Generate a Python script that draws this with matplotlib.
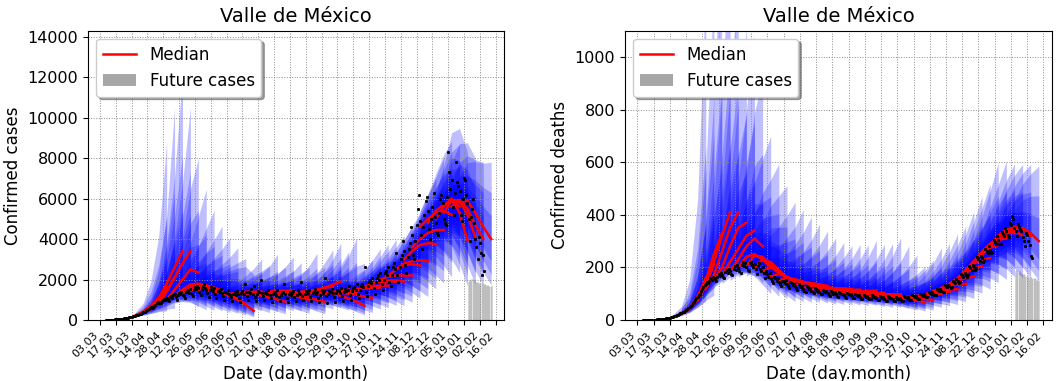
import numpy as np
import pandas as pd
import matplotlib
matplotlib.use("Agg")
import matplotlib.pyplot as plt
import matplotlib.dates as mdates
from matplotlib.lines import Line2D
from matplotlib.patches import Patch

# ---------------------------------------------------------------- data
region = "Valle de México"
first_day = "2020-03-08"

# daily confirmed cases, one row per week starting on Sundays
cases_daily = [
    2, 3, 5, 6, 10, 12, 18,
    20, 25, 30, 38, 45, 50, 55,
    60, 70, 80, 95, 105, 110, 120,
    130, 150, 160, 180, 200, 210, 230,
    240, 270, 300, 320, 350, 380, 400,
    420, 460, 500, 540, 580, 620, 650,
    600, 700, 760, 820, 880, 830, 900,
    820, 960, 1000, 1050, 980, 1100, 1050,
    950, 1150, 1200, 1100, 1250, 1300, 1150,
    1000, 1250, 1350, 1300, 1400, 1250, 1200,
    1100, 1400, 1450, 1500, 1350, 1550, 1300,
    1200, 1500, 1650, 1550, 1700, 1600, 1400,
    1250, 1550, 1700, 1800, 1600, 1500, 1350,
    1150, 1500, 1650, 1550, 1450, 1600, 1300,
    1100, 1450, 1500, 1400, 1550, 1350, 1200,
    1000, 1400, 1350, 1500, 1300, 1250, 1150,
    950, 1300, 1400, 1250, 1450, 1300, 1100,
    900, 1350, 1450, 1300, 1800, 1400, 1200,
    1000, 1400, 1350, 1550, 1300, 1700, 1150,
    950, 1300, 1450, 1400, 2000, 1350, 1200,
    1000, 1350, 1400, 1300, 1500, 1250, 1100,
    900, 1300, 1400, 1350, 1250, 1500, 1150,
    950, 1250, 1350, 1400, 1800, 1300, 1100,
    900, 1300, 1400, 1250, 1350, 1450, 1150,
    950, 1250, 1500, 1350, 1300, 1900, 1200,
    1000, 1300, 1450, 1400, 1350, 1500, 1150,
    950, 1350, 1400, 1550, 1300, 1400, 1100,
    900, 1250, 1500, 1350, 1450, 2100, 1200,
    850, 1300, 1450, 1400, 1550, 1350, 1150,
    900, 1350, 1500, 1450, 1350, 1600, 1200,
    950, 1400, 1550, 1450, 1500, 1700, 1250,
    1000, 1450, 1600, 1650, 1500, 1800, 1300,
    1100, 1500, 1700, 1800, 1650, 2600, 1400,
    1200, 1700, 1900, 2000, 1850, 2100, 1600,
    1300, 1900, 2100, 2200, 2000, 2300, 1800,
    1500, 2000, 2300, 2400, 2200, 2600, 1900,
    1700, 2200, 2600, 2800, 2500, 3300, 2200,
    1900, 2600, 3000, 3200, 3900, 3400, 2700,
    2300, 3100, 3500, 3800, 4600, 4200, 3200,
    3000, 3900, 4700, 5500, 6200, 4900, 4200,
    3500, 4600, 5200, 5900, 6100, 5400, 4500,
    4000, 5000, 5600, 6300, 5100, 4800, 4300,
    4200, 5300, 6000, 6200, 5800, 5000, 4800,
    4700, 6100, 8300, 7300, 6500, 6900, 5600,
    5200, 6300, 7800, 6800, 6600, 6400, 5200,
    4900, 6000, 7000, 6900, 6200, 5800, 5000,
    3900, 5100, 5500, 6000, 4800, 4000, 3600,
    3000, 4100, 3800, 3300, 2200, 3200, 2400,
]

# daily confirmed deaths, same calendar
deaths_daily = [
    0, 0, 0, 0, 0, 0, 0,
    0, 0, 1, 1, 1, 2, 2,
    2, 3, 3, 4, 5, 5, 6,
    7, 8, 9, 10, 12, 13, 15,
    16, 18, 20, 22, 25, 27, 30,
    32, 35, 38, 42, 46, 50, 55,
    58, 63, 68, 75, 82, 88, 95,
    100, 110, 118, 125, 132, 138, 145,
    140, 150, 158, 152, 165, 160, 155,
    150, 165, 175, 168, 180, 172, 165,
    160, 182, 190, 178, 195, 185, 175,
    172, 195, 205, 190, 210, 198, 185,
    180, 210, 220, 205, 215, 200, 190,
    185, 215, 222, 208, 200, 212, 195,
    175, 205, 215, 195, 185, 200, 180,
    160, 185, 175, 165, 178, 160, 150,
    140, 165, 158, 150, 160, 145, 135,
    130, 150, 148, 140, 152, 138, 128,
    122, 145, 140, 132, 138, 128, 120,
    115, 135, 130, 125, 128, 118, 112,
    108, 128, 125, 118, 122, 112, 105,
    102, 120, 118, 112, 115, 108, 100,
    98, 115, 112, 106, 110, 102, 96,
    92, 110, 108, 100, 105, 98, 90,
    88, 106, 102, 97, 100, 94, 86,
    85, 102, 98, 94, 97, 90, 84,
    82, 98, 95, 90, 94, 88, 80,
    80, 96, 92, 88, 91, 85, 78,
    78, 94, 90, 86, 88, 83, 76,
    76, 92, 88, 84, 86, 80, 74,
    74, 90, 86, 82, 84, 78, 72,
    72, 88, 85, 80, 83, 77, 72,
    73, 90, 86, 82, 86, 80, 75,
    76, 94, 90, 86, 90, 85, 80,
    80, 100, 96, 92, 98, 92, 86,
    88, 108, 104, 100, 106, 100, 95,
    96, 118, 114, 110, 118, 112, 106,
    108, 132, 128, 125, 134, 128, 120,
    124, 150, 146, 142, 154, 148, 140,
    145, 175, 170, 165, 180, 172, 162,
    170, 205, 198, 192, 210, 200, 190,
    198, 240, 232, 225, 245, 235, 222,
    228, 270, 262, 255, 280, 268, 255,
    260, 305, 298, 290, 318, 305, 290,
    290, 335, 328, 320, 350, 338, 322,
    315, 370, 360, 395, 385, 350, 340,
    320, 365, 355, 345, 340, 315, 300,
    280, 330, 325, 300, 285, 245, 235,
]

# weekly forecast runs: issue dates and days ahead of each median node
forecast_starts = [
    "2020-04-03", "2020-04-10", "2020-04-17", "2020-04-24", "2020-05-01",
    "2020-05-08", "2020-05-15", "2020-05-22", "2020-05-29", "2020-06-05",
    "2020-06-12", "2020-06-19", "2020-06-26", "2020-07-03", "2020-07-10",
    "2020-07-17", "2020-07-24", "2020-07-31", "2020-08-07", "2020-08-14",
    "2020-08-21", "2020-08-28", "2020-09-04", "2020-09-11", "2020-09-18",
    "2020-09-25", "2020-10-02", "2020-10-09", "2020-10-16", "2020-10-23",
    "2020-10-30", "2020-11-06", "2020-11-13", "2020-11-20", "2020-11-27",
    "2020-12-04", "2020-12-11", "2020-12-18", "2020-12-25", "2021-01-01",
    "2021-01-08", "2021-01-15",
]
horizon_days = [0, 7, 14, 21, 28]

cases_median = [
    [220, 400, 700, 1100, 1600], [330, 550, 950, 1450, 2100],
    [550, 1100, 1800, 2600, 3400], [800, 1400, 2100, 2800, 3400],
    [1000, 1500, 2000, 2500, 2350], [1200, 1500, 1750, 1800, 1700],
    [1350, 1600, 1750, 1700, 1550], [1450, 1650, 1700, 1600, 1450],
    [1500, 1600, 1500, 1350, 1200], [1450, 1450, 1350, 1200, 1050],
    [1400, 1350, 1200, 1000, 800], [1350, 1250, 1000, 750, 450],
    [1300, 1350, 1400, 1400, 1400], [1300, 1350, 1300, 1200, 1100],
    [1300, 1350, 1350, 1300, 1300], [1300, 1250, 1150, 1000, 900],
    [1300, 1400, 1450, 1450, 1450], [1250, 1300, 1350, 1350, 1350],
    [1250, 1250, 1200, 1100, 1000], [1250, 1300, 1400, 1450, 1500],
    [1250, 1200, 1100, 1000, 900], [1300, 1400, 1500, 1600, 1650],
    [1300, 1450, 1600, 1750, 1900], [1300, 1350, 1400, 1450, 1500],
    [1300, 1350, 1350, 1350, 1350], [1300, 1200, 1050, 900, 700],
    [1350, 1300, 1250, 1150, 1100], [1400, 1500, 1550, 1600, 1600],
    [1500, 1600, 1650, 1700, 1700], [1650, 1800, 1900, 1900, 1900],
    [1800, 1900, 1950, 1950, 1900], [2000, 2150, 2200, 2200, 2200],
    [2200, 2500, 2700, 2750, 2700], [2500, 2800, 2900, 2950, 2900],
    [3000, 3400, 3700, 3800, 3750], [3600, 4000, 4300, 4450, 4450],
    [4600, 5000, 5300, 5400, 5200], [4800, 5400, 5700, 5900, 5600],
    [5000, 5600, 6000, 5300, 3950], [5300, 5900, 5900, 5200, 4100],
    [5600, 5900, 5500, 4700, 4000], [5800, 5900, 5300, 4600, 4000],
]
# outer credible band at the last node, as a multiple of the median
cases_upper = [
    5.5, 5.0, 3.6, 3.1, 3.4, 3.8, 3.5, 3.2, 3.4, 3.4,
    3.8, 5.0, 2.15, 2.45, 2.5, 2.9, 2.15, 2.1, 2.6, 2.2,
    2.9, 2.1, 2.0, 2.25, 3.0, 4.0, 2.7, 2.2, 2.2, 2.1,
    2.2, 2.1, 1.95, 1.95, 1.87, 1.8, 1.7, 1.55, 2.1, 1.95,
    1.95, 1.95,
]
cases_lower = [
    0.28, 0.28, 0.30, 0.28, 0.28, 0.30, 0.31, 0.31, 0.31, 0.31,
    0.31, 0.33, 0.33, 0.33, 0.32, 0.34, 0.32, 0.33, 0.33, 0.32,
    0.34, 0.33, 0.33, 0.33, 0.33, 0.36, 0.34, 0.34, 0.36, 0.38,
    0.38, 0.40, 0.40, 0.40, 0.41, 0.41, 0.41, 0.42, 0.43, 0.43,
    0.43, 0.43,
]

deaths_median = [
    [12, 22, 45, 90, 160], [27, 40, 80, 140, 210],
    [42, 80, 150, 250, 330], [75, 130, 220, 320, 410],
    [118, 170, 260, 350, 410], [155, 200, 280, 350, 370],
    [172, 220, 270, 320, 340], [185, 230, 280, 310, 280],
    [200, 240, 250, 230, 200], [205, 245, 240, 210, 180],
    [200, 230, 220, 190, 160], [185, 200, 180, 160, 140],
    [165, 175, 165, 150, 140], [150, 160, 155, 145, 135],
    [140, 150, 145, 140, 135], [130, 140, 140, 135, 130],
    [122, 130, 130, 125, 120], [115, 122, 122, 120, 118],
    [110, 118, 120, 120, 118], [105, 112, 115, 115, 115],
    [100, 108, 110, 110, 110], [97, 105, 108, 110, 112],
    [94, 100, 102, 103, 103], [91, 97, 98, 98, 97],
    [89, 95, 97, 98, 98], [87, 92, 92, 90, 88],
    [85, 88, 85, 80, 75], [82, 84, 80, 74, 68],
    [82, 86, 84, 80, 76], [85, 92, 95, 97, 98],
    [90, 98, 103, 106, 108], [98, 108, 113, 116, 117],
    [110, 120, 130, 135, 138], [122, 135, 150, 160, 165],
    [138, 160, 180, 195, 205], [160, 190, 215, 230, 235],
    [190, 225, 255, 275, 285], [220, 260, 290, 305, 310],
    [245, 285, 320, 335, 330], [275, 320, 345, 340, 320],
    [300, 340, 355, 345, 320], [320, 345, 350, 330, 300],
]
deaths_upper = [
    8.0, 6.0, 4.5, 3.6, 3.2, 3.0, 3.2, 3.3, 3.5, 3.3,
    3.2, 3.2, 3.0, 2.9, 2.7, 2.6, 2.6, 2.5, 2.4, 2.5,
    2.6, 2.7, 2.8, 3.0, 3.2, 3.2, 3.3, 3.0, 3.0, 2.8,
    2.7, 2.8, 2.6, 2.5, 2.3, 2.2, 2.1, 1.95, 1.8, 1.85,
    1.85, 1.95,
]
deaths_lower = [
    0.45, 0.45, 0.45, 0.46, 0.47, 0.48, 0.49, 0.50, 0.50, 0.50,
    0.50, 0.50, 0.50, 0.50, 0.50, 0.50, 0.50, 0.50, 0.50, 0.50,
    0.50, 0.50, 0.50, 0.50, 0.50, 0.50, 0.50, 0.50, 0.50, 0.50,
    0.50, 0.50, 0.50, 0.50, 0.50, 0.50, 0.50, 0.50, 0.50, 0.50,
    0.50, 0.50,
]

# days still to be reported
future_start = "2021-01-23"
future_cases = [1900, 2000, 1950, 2050, 2000, 1950, 1900, 1850, 1900, 1850, 1800,
                1850, 1800, 1750, 1800, 1750, 1700, 1750, 1700, 1650, 1700]
future_deaths = [185, 190, 180, 185, 180, 175, 170, 175, 170, 165, 170,
                 165, 160, 165, 160, 155, 160, 155, 150, 155, 150]

# ---------------------------------------------------------------- drawing
band_levels = [1.0, 0.68, 0.38]
band_alpha = 0.25


def draw_panel(ax, daily, medians, upper, lower, future, ymax, ylabel):
    days = pd.date_range(first_day, periods=len(daily), freq="D")
    hd = np.array(horizon_days, dtype=float)
    growth = 0.3 + 0.7 * (hd / hd[-1]) ** 1.3

    fut_days = pd.date_range(future_start, periods=len(future), freq="D")
    ax.bar(fut_days, future, width=1.0, color="0.75", alpha=0.45,
           edgecolor="0.6", linewidth=0.5, zorder=0.6)

    for start, med, uf, lf in zip(forecast_starts, medians, upper, lower):
        x = pd.Timestamp(start) + pd.to_timedelta(horizon_days, unit="D")
        m = np.array(med, dtype=float)
        for lev in band_levels:
            ax.fill_between(x, m * lf ** (lev * growth), m * uf ** (lev * growth),
                            color="blue", alpha=band_alpha, linewidth=0, zorder=1)
    for start, med in zip(forecast_starts, medians):
        x = pd.Timestamp(start) + pd.to_timedelta(horizon_days, unit="D")
        ax.plot(x, med, color="red", linewidth=1.8, zorder=3)

    ax.plot(days, daily, linestyle="none", marker="s", markersize=1.1,
            color="black", zorder=4)

    ax.set_xlim(pd.Timestamp("2020-02-21 10:00"), pd.Timestamp("2021-02-23 08:00"))
    ax.set_ylim(0, ymax)
    ticks = pd.date_range("2020-03-03", "2021-02-16", freq="14D")
    ax.set_xticks(ticks)
    ax.xaxis.set_major_formatter(mdates.DateFormatter("%d.%m"))
    for lab in ax.get_xticklabels():
        lab.set_rotation(45)
        lab.set_ha("right")
        lab.set_fontsize(8)
    ax.tick_params(axis="y", labelsize=11.5)
    ax.grid(True, linestyle=":", linewidth=0.7, color="0.55")
    ax.set_title(region, fontsize=14)
    ax.set_xlabel("Date (day.month)", fontsize=12)
    ax.set_ylabel(ylabel, fontsize=12)

    handles = [Line2D([], [], color="red", linewidth=1.8, label="Median"),
               Patch(facecolor="gray", alpha=0.7, label="Future cases")]
    ax.legend(handles=handles, loc="upper left", fontsize=12, shadow=True,
              fancybox=True, framealpha=1.0)


fig = plt.figure(figsize=(10.6, 3.81), dpi=100)
ax1 = fig.add_axes([88 / 1060, 61 / 381, 416 / 1060, 289.3 / 381])
ax2 = fig.add_axes([625 / 1060, 61 / 381, 427 / 1060, 289.3 / 381])

draw_panel(ax1, cases_daily, cases_median, cases_upper, cases_lower,
           future_cases, 14300, "Confirmed cases")
ax1.set_yticks(range(0, 14001, 2000))
draw_panel(ax2, deaths_daily, deaths_median, deaths_upper, deaths_lower,
           future_deaths, 1100, "Confirmed deaths")
ax2.set_yticks(range(0, 1001, 200))

fig.savefig("out.png", dpi=100)
